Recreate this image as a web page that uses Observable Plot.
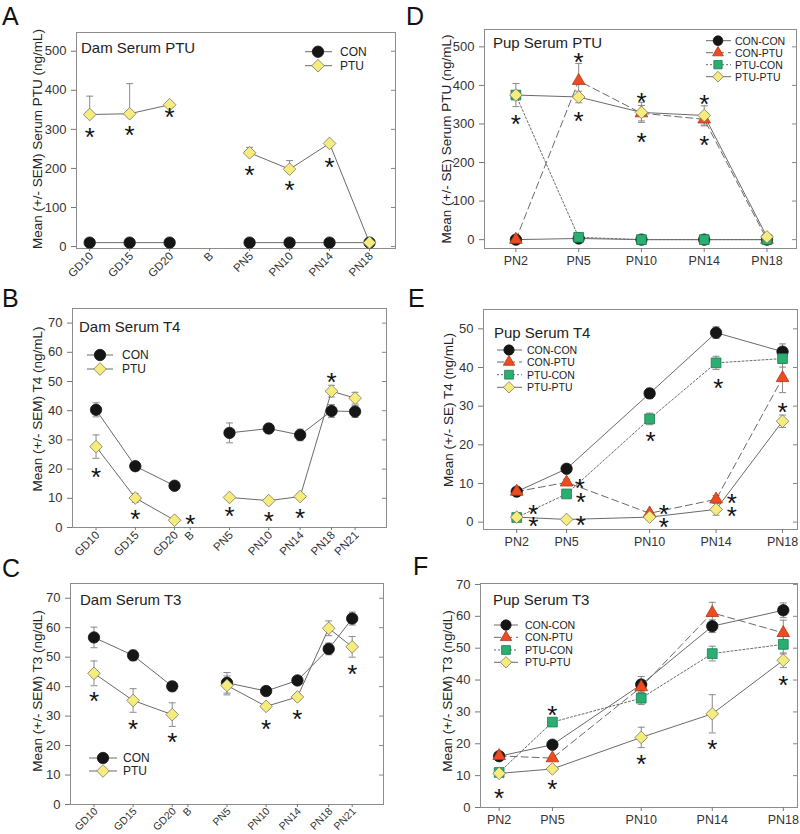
<!DOCTYPE html>
<html><head><meta charset="utf-8">
<script src="https://cdn.jsdelivr.net/npm/d3@7"></script>
<script src="https://cdn.jsdelivr.net/npm/@observablehq/plot@0.6"></script>
<style>
body{margin:0;background:#fff;}
#root{position:relative;width:800px;height:834px;overflow:hidden;background:#fff;}
.pnl{position:absolute;}
#ov{position:absolute;left:0;top:0;pointer-events:none;}
</style></head><body><div id="root"></div>
<script>
// ---------------- DATA ----------------
// Dam panels
const damCatsA = ["GD10","GD15","GD20","B","PN5","PN10","PN14","PN18"];
const aCON    = [10,10,10,null,10,10,10,10];
const aPTU    = [338,340,363,null,240,198,264,10];
const aPTUerr = [47,77,4,null,14,22,4,2];
const aStars  = [{x:0,y:297},{x:1,y:303},{x:2,y:348},{x:4,y:199},{x:5,y:161},{x:6,y:221}];

const damLabels = ["GD10","GD15","GD20","B","PN5","PN10","PN14","PN18","PN21"];
const damDays   = [10,15,20,22,27,32,36,40,43];
const bCON    = [40.3,21.0,14.3,null,32.4,33.9,31.7,39.9,39.7];
const bCONerr = [2.4,0.8,0.8,null,3.4,1.6,2.0,2.2,2.0];
const bPTU    = [27.7,10.1,2.5,null,10.3,9.2,10.6,46.7,44.3];
const bPTUerr = [4.0,1.5,0.5,null,0.8,0.5,0.8,2.0,2.0];
const bStars  = [{x:10,y:19.4},{x:15,y:5.1},{x:22,y:3.2},{x:27,y:6.0},{x:32,y:4.3},{x:36,y:5.5},{x:40,y:52.0}];

const cCON    = [56.7,50.6,40.1,null,41.3,38.5,42.1,52.8,63.1];
const cCONerr = [3.5,1.8,1.5,null,3.5,1.3,1.2,2.0,2.2];
const cPTU    = [44.5,35.3,30.5,null,40.4,33.3,36.5,59.8,53.5];
const cPTUerr = [4.2,4.0,4.0,null,3.2,1.0,1.0,2.5,3.5];
const cStars  = [{x:10,y:37.3},{x:15,y:27.9},{x:20,y:23.3},{x:32,y:27.9},{x:36,y:31.3},{x:43,y:46.4}];

// Pup panels
const pupCats = ["PN2","PN5","PN10","PN14","PN18"];
const pupDays = [2,5,10,14,18];

const dCONCON = [0,3,0,0,0];
const dCONPTU = [0,412,328,312,0];
const dCONPTUerr = [0,45,20,17,0];
const dPTUCON = [375,6,0,0,0];
const dPTUCONerr = [0,3,0,0,0];
const dPTUPTU = [375,370,330,322,7];
const dPTUPTUerr = [30,15,26,25,3];
const dStars  = [{x:0,y:316},{x:1,y:476},{x:1,y:324},{x:2,y:374},{x:2,y:270},{x:3,y:367},{x:3,y:261}];

const eCONCON = [7.9,13.8,33.3,49.0,44.1];
const eCONCONerr = [0.5,0.5,1.3,1.5,2.0];
const eCONPTU = [7.9,10.3,2.3,5.9,37.3];
const eCONPTUerr = [0.5,0.8,0.5,1.0,3.8];
const ePTUCON = [1.2,7.3,26.7,41.2,42.3];
const ePTUCONerr = [0.3,0.8,1.5,1.7,2.2];
const ePTUPTU = [1.3,0.7,1.3,3.3,26.1];
const ePTUPTUerr = [0.3,0.3,0.3,1.5,1.6];
const eStars  = [{x:3.0,y:3.7},{x:3.0,y:0.6},{x:5.8,y:10.5},{x:5.86,y:6.9},{x:5.86,y:0.9},
                 {x:10.06,y:22.6},{x:10.86,y:3.7},{x:10.86,y:0.3},{x:14.14,y:36.4},
                 {x:14.94,y:6.5},{x:14.94,y:3.2},{x:18.0,y:30.2}];

const fCONCON = [16.1,19.7,38.6,56.9,61.9];
const fCONCONerr = [0.6,0.6,2.5,2.0,2.3];
const fCONPTU = [16.2,15.5,37.8,61.1,54.8];
const fCONPTUerr = [0.6,0.6,2.0,3.3,4.0];
const fPTUCON = [11.0,26.8,34.3,48.3,51.2];
const fPTUCONerr = [0.5,1.0,2.0,2.3,3.0];
const fPTUPTU = [10.7,12.1,22.0,29.4,46.2];
const fPTUPTUerr = [0.5,0.8,3.2,6.0,2.3];
const fStars  = [{x:2,y:4.9},{x:5,y:31.0},{x:5,y:7.9},{x:10,y:15.7},{x:14,y:20.3},{x:18,y:40.4}];

const ticks0_500 = [0,100,200,300,400,500];
const ticks0_70 = [0,10,20,30,40,50,60,70];
const ticks0_50 = [0,10,20,30,40,50];

// ---------------- STYLE ----------------
const FONT = "'Liberation Sans', Arial, Helvetica, sans-serif";
const LINE = "#6a6a6a";
const ERR = "#8a8a8a";
const STYLE = {
  "CON":     {symbol: d3.symbolCircle,   r: 5.7, fill: "#151515", stroke: "#151515", dash: null},
  "PTU":     {symbol: d3.symbolDiamond2, r: 5.7, fill: "#f6ec7e", stroke: "#77776a", dash: null},
  "CON-CON": {symbol: d3.symbolCircle,   r: 5.7, fill: "#151515", stroke: "#151515", dash: null},
  "CON-PTU": {symbol: d3.symbolTriangle, r: 4.7, fill: "#ee4b1f", stroke: "#a83a1c", dash: "7,4"},
  "PTU-CON": {symbol: d3.symbolSquare,   r: 5.5, fill: "#2aaf70", stroke: "#1d7a4e", dash: "2,2"},
  "PTU-PTU": {symbol: d3.symbolDiamond2, r: 5.7, fill: "#f6ec7e", stroke: "#77776a", dash: null}
};
const CAP = {draw(ctx){ ctx.moveTo(-3.5,0); ctx.lineTo(3.5,0); }};

const root = document.getElementById("root");
const rotatedLabels = []; // filled after each Plot renders, using its x scale

function buildPanel(cfg) {
  const marks = [];
  marks.push(Plot.frame({stroke: "#8c8c8c"}));
  // inner ticks on right edge
  marks.push(Plot.ruleY(cfg.yTicks, {y: d => d, x1: cfg.xDomain[1], x2: cfg.xDomain[1], insetLeft: -4, stroke: "#888"}));
  const all = cfg.series.map(s => ({s, rows: cfg.xs.map((x, i) => ({x, y: s.values[i], e: s.err ? s.err[i] : null}))}));
  // error bars
  for (const {rows} of all) {
    const eb = rows.filter(d => d.y != null && d.e != null && d.e > 0);
    marks.push(Plot.ruleX(eb, {x: "x", y1: d => cfg.upOnly ? d.y : d.y - d.e, y2: d => d.y + d.e, stroke: ERR, strokeWidth: 1}));
    marks.push(Plot.dot(eb, {x: "x", y: d => d.y + d.e, symbol: CAP, r: 2, stroke: ERR, fill: "none", strokeWidth: 1}));
    if (!cfg.upOnly) marks.push(Plot.dot(eb, {x: "x", y: d => d.y - d.e, symbol: CAP, r: 2, stroke: ERR, fill: "none", strokeWidth: 1}));
  }
  for (const {s, rows} of all) {
    const st = STYLE[s.name];
    marks.push(Plot.line(rows, {x: "x", y: "y", stroke: LINE, strokeWidth: 1, strokeDasharray: st.dash}));
  }
  for (const {s, rows} of all) {
    const st = STYLE[s.name];
    marks.push(Plot.dot(rows.filter(d => d.y != null), {x: "x", y: "y", symbol: st.symbol, r: st.r, fill: st.fill, stroke: st.stroke, strokeWidth: 0.8}));
  }
  marks.push(Plot.text(cfg.stars, {x: "x", y: "y", text: () => "*", fontSize: 26, dy: 7, fill: "#111"}));
  marks.push(Plot.axisY({ticks: cfg.yTicks, tickSize: 5, tickPadding: 5, label: null, stroke: "#777", fill: "#333", fontSize: 13}));
  if (cfg.rotate) {
    marks.push(Plot.axisX({ticks: cfg.xTicks, tickSize: 3, tickFormat: () => "", label: null, stroke: "#777"}));
  } else {
    marks.push(Plot.axisX({ticks: cfg.xTicks, tickFormat: d => cfg.xLabels[cfg.xTicks.indexOf(d)],
      tickSize: 4, tickPadding: 4, label: null, stroke: "#777", fill: "#333", fontSize: cfg.xFont}));
  }
  const svg = Plot.plot({
    width: cfg.w, height: cfg.h,
    marginTop: cfg.m[0], marginRight: cfg.m[1], marginBottom: cfg.m[2], marginLeft: cfg.m[3],
    x: {domain: cfg.xDomain}, y: {domain: cfg.yDomain},
    style: {fontFamily: FONT, fontSize: "12.5px", background: "transparent", overflow: "visible", color: "#333"},
    marks
  });
  const div = document.createElement("div");
  div.className = "pnl";
  div.style.left = cfg.left + "px"; div.style.top = cfg.top + "px";
  div.appendChild(svg);
  root.appendChild(div);
  if (cfg.rotate) {
    const xs = svg.scale("x");
    const yb = cfg.top + cfg.h - cfg.m[2];
    cfg.xTicks.forEach((t, i) => rotatedLabels.push({x: cfg.left + xs.apply(t), y: yb, text: cfg.xLabels[i], fs: cfg.xFont, dy: cfg.labDy}));
  }
}

const idxA = damCatsA.map((_, i) => i);
const idxD = pupCats.map((_, i) => i);

const panels = [
  {key:"A", left:0, top:0, w:400, h:280, m:[32,5,32,76], xDomain:[-0.33,7.65], yDomain:[-5,548],
   xs: idxA, xTicks: idxA, xLabels: damCatsA, rotate:true, xFont: 11.5, labDy: 6, yTicks: ticks0_500, upOnly:true,
   series:[{name:"CON", values:aCON}, {name:"PTU", values:aPTU, err:aPTUerr}], stars:aStars},
  {key:"B", left:0, top:270, w:400, h:285, m:[38,14,28,72], xDomain:[7,47], yDomain:[0,75],
   xs: damDays, xTicks: damDays, xLabels: damLabels, rotate:true, xFont: 11.5, labDy: 6, yTicks: ticks0_70,
   series:[{name:"CON", values:bCON, err:bCONerr}, {name:"PTU", values:bPTU, err:bPTUerr}], stars:bStars},
  {key:"C", left:0, top:545, w:400, h:289, m:[38,17,30,70], xDomain:[7,47], yDomain:[0,75],
   xs: damDays, xTicks: damDays, xLabels: damLabels, rotate:true, xFont: 10.5, labDy: 5, yTicks: ticks0_70,
   series:[{name:"CON", values:cCON, err:cCONerr}, {name:"PTU", values:cPTU, err:cPTUerr}], stars:cStars},
  {key:"D", left:400, top:0, w:400, h:280, m:[29,4,32,84], xDomain:[-0.5,4.47], yDomain:[-23,545],
   xs: idxD, xTicks: idxD, xLabels: pupCats, rotate:false, xFont: 12.5, yTicks: ticks0_500,
   series:[{name:"CON-CON", values:dCONCON}, {name:"CON-PTU", values:dCONPTU, err:dCONPTUerr},
           {name:"PTU-CON", values:dPTUCON, err:dPTUCONerr}, {name:"PTU-PTU", values:dPTUPTU, err:dPTUPTUerr}], stars:dStars},
  {key:"E", left:400, top:270, w:400, h:285, m:[39,3,26,83], xDomain:[0,18.9], yDomain:[-1.9,55],
   xs: pupDays, xTicks: pupDays, xLabels: pupCats, rotate:false, xFont: 12.5, yTicks: ticks0_50,
   series:[{name:"CON-CON", values:eCONCON, err:eCONCONerr}, {name:"CON-PTU", values:eCONPTU, err:eCONPTUerr},
           {name:"PTU-CON", values:ePTUCON, err:ePTUCONerr}, {name:"PTU-PTU", values:ePTUPTU, err:ePTUPTUerr}], stars:eStars},
  {key:"F", left:400, top:545, w:400, h:289, m:[38,3,27,80], xDomain:[0.95,18.8], yDomain:[0,70.3],
   xs: pupDays, xTicks: pupDays, xLabels: pupCats, rotate:false, xFont: 12.5, yTicks: ticks0_70,
   series:[{name:"CON-CON", values:fCONCON, err:fCONCONerr}, {name:"CON-PTU", values:fCONPTU, err:fCONPTUerr},
           {name:"PTU-CON", values:fPTUCON, err:fPTUCONerr}, {name:"PTU-PTU", values:fPTUPTU, err:fPTUPTUerr}], stars:fStars}
];
panels.forEach(buildPanel);

// ---------------- OVERLAY TEXT / LEGENDS ----------------
const ov = d3.select(root).append("svg").attr("id","ov").attr("width",800).attr("height",834)
  .style("font-family", FONT);

// rotated x tick labels (positions from each Plot's x scale)
rotatedLabels.forEach(l => ov.append("text")
  .attr("transform", `translate(${l.x + 2},${l.y + l.dy}) rotate(-45)`)
  .attr("text-anchor","end").attr("dominant-baseline","central")
  .attr("font-size", l.fs).attr("fill","#333").text(l.text));

const letters = [["A",2,25],["B",2,307],["C",2,577],["D",406,25],["E",408,307],["F",413,575]];
letters.forEach(([t,x,y]) => ov.append("text").attr("x",x).attr("y",y).attr("font-size",25).attr("fill","#111").text(t));

const titles = [["Dam Serum PTU",81,53],["Dam Serum T4",79,332],["Dam Serum T3",80,605],
                ["Pup Serum PTU",493,48],["Pup Serum T4",494,338],["Pup Serum T3",493,605]];
titles.forEach(([t,x,y]) => ov.append("text").attr("x",x).attr("y",y).attr("font-size",15).attr("fill","#222").text(t));

const ylabels = [["Mean (+/- SEM) Serum PTU (ng/mL)",37,139],["Mean (+/- SEM) T4 (ng/mL)",37,409],
                 ["Mean (+/- SEM) T3 (ng/dL)",37,691],["Mean (+/- SE) Serum PTU (ng/mL)",446,139],
                 ["Mean (+/- SE) T4 (ng/mL)",448,410],["Mean (+/- SEM) T3 (ng/dL)",447,691]];
ylabels.forEach(([t,x,y]) => ov.append("text").attr("transform",`translate(${x},${y}) rotate(-90)`)
  .attr("text-anchor","middle").attr("dominant-baseline","central").attr("font-size",13.5).attr("fill","#222").text(t));

function legend(names, x1, x2, mx, tx, ys, fs, rs) {
  names.forEach((n, i) => {
    const st = STYLE[n], y = ys[i];
    ov.append("line").attr("x1",x1).attr("x2",x2).attr("y1",y).attr("y2",y).attr("stroke",LINE)
      .attr("stroke-dasharray", st.dash || null);
    const r = st.r * rs;
    ov.append("path").attr("d", d3.symbol().type(st.symbol).size(Math.PI*r*r)())
      .attr("transform",`translate(${mx},${y})`).attr("fill",st.fill).attr("stroke",st.stroke).attr("stroke-width",0.8);
    ov.append("text").attr("x",tx).attr("y",y).attr("dominant-baseline","central").attr("font-size",fs).attr("fill","#222").text(n);
  });
}
legend(["CON","PTU"], 305, 332, 318, 340, [51.7,65.7], 12, 1);
legend(["CON","PTU"], 87, 113, 100, 122, [355,369], 12, 1);
legend(["CON","PTU"], 89, 117, 103, 123, [758,771], 12, 1);
const pupNames = ["CON-CON","CON-PTU","PTU-CON","PTU-PTU"];
legend(pupNames, 706, 731, 718, 735, [40.7,52.7,64.7,76.7], 10.5, 0.85);
legend(pupNames, 497, 522, 509, 527, [350,362,374.7,387.3], 10.5, 0.9);
legend(pupNames, 494, 518, 506, 525, [625,637.3,650,662.3], 10.5, 0.9);
</script></body></html>
